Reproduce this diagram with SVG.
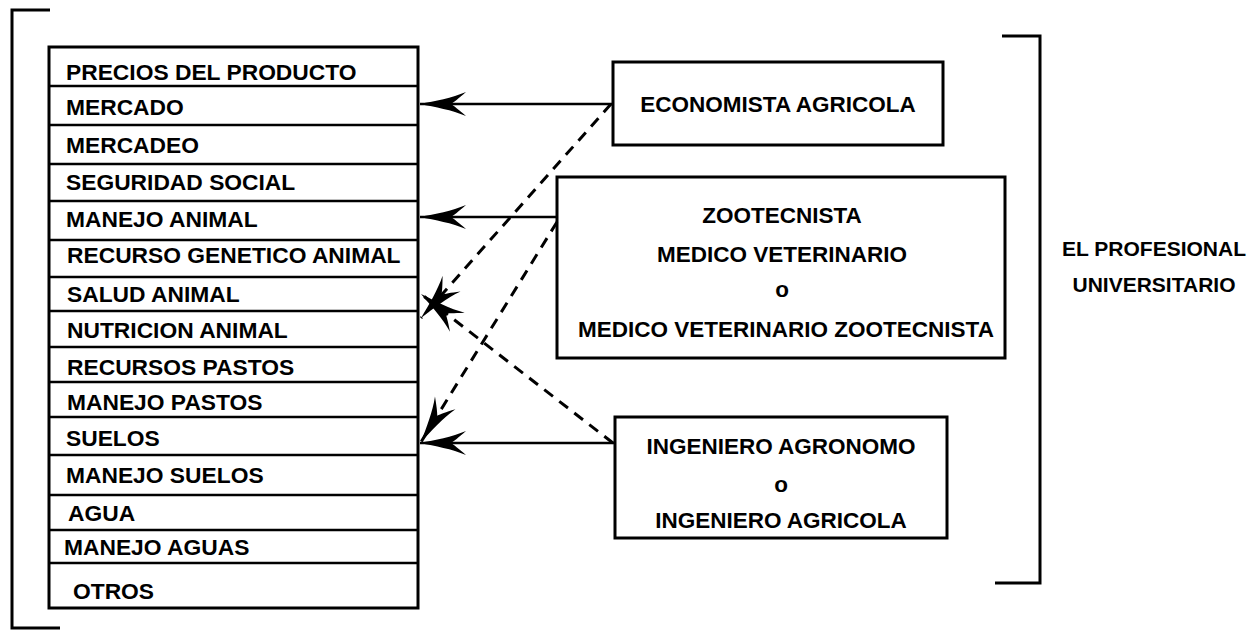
<svg xmlns="http://www.w3.org/2000/svg" width="1250" height="638" viewBox="0 0 1250 638">
<style>
text{font-family:"Liberation Sans",Arial,sans-serif;font-weight:bold;fill:#000}
.lt{font-size:22.8px}
.bt{font-size:22.5px;text-anchor:middle}
.box{fill:#fff;stroke:#000;stroke-width:3}
.div{stroke:#000;stroke-width:2.5}
.br{fill:none;stroke:#000;stroke-width:3}
.sol{fill:none;stroke:#000;stroke-width:2.5;marker-end:url(#ah)}
.dsh{fill:none;stroke:#000;stroke-width:3;stroke-dasharray:11 8;marker-end:url(#ah)}
</style>
<defs>
<marker id="ah" markerUnits="userSpaceOnUse" orient="auto" viewBox="-50 -15 52 30" markerWidth="52" markerHeight="30" refX="0" refY="0">
<path d="M0,0 C-15,-3 -32,-6 -46,-12 C-38,-5 -34,-2 -31,0 C-34,2 -38,5 -46,12 C-32,6 -15,3 0,0 Z" fill="#000"/>
</marker>
</defs>
<rect width="1250" height="638" fill="#fff"/>
<g id="left-bracket">
<path class="br" d="M50,10 H12 V628 H60"/>
</g>
<g id="right-bracket">
<path class="br" d="M1002,36 H1040 V583 H995"/>
</g>
<g id="list">
<rect class="box" x="49" y="47" width="369" height="561"/>
<line class="div" x1="49" y1="86" x2="418" y2="86"/>
<line class="div" x1="49" y1="125" x2="418" y2="125"/>
<line class="div" x1="49" y1="164" x2="418" y2="164"/>
<line class="div" x1="49" y1="201" x2="418" y2="201"/>
<line class="div" x1="49" y1="240" x2="418" y2="240"/>
<line class="div" x1="49" y1="277" x2="418" y2="277"/>
<line class="div" x1="49" y1="311" x2="418" y2="311"/>
<line class="div" x1="49" y1="347" x2="418" y2="347"/>
<line class="div" x1="49" y1="382" x2="418" y2="382"/>
<line class="div" x1="49" y1="417" x2="418" y2="417"/>
<line class="div" x1="49" y1="455" x2="418" y2="455"/>
<line class="div" x1="49" y1="495" x2="418" y2="495"/>
<line class="div" x1="49" y1="530" x2="418" y2="530"/>
<line class="div" x1="49" y1="563" x2="418" y2="563"/>
<text class="lt" x="66" y="80">PRECIOS DEL PRODUCTO</text>
<text class="lt" x="66" y="115">MERCADO</text>
<text class="lt" x="66" y="153">MERCADEO</text>
<text class="lt" x="66" y="190">SEGURIDAD SOCIAL</text>
<text class="lt" x="66" y="227">MANEJO ANIMAL</text>
<text class="lt" x="67" y="263">RECURSO GENETICO ANIMAL</text>
<text class="lt" x="67" y="302">SALUD ANIMAL</text>
<text class="lt" x="67" y="338">NUTRICION ANIMAL</text>
<text class="lt" x="67" y="375">RECURSOS PASTOS</text>
<text class="lt" x="67" y="410">MANEJO PASTOS</text>
<text class="lt" x="66" y="446">SUELOS</text>
<text class="lt" x="66" y="483">MANEJO SUELOS</text>
<text class="lt" x="68" y="521">AGUA</text>
<text class="lt" x="64" y="555">MANEJO AGUAS</text>
<text class="lt" x="73" y="599">OTROS</text>
</g>
<g id="economista">
<rect class="box" x="613" y="62" width="330" height="83"/>
<text class="bt" x="778" y="112">ECONOMISTA AGRICOLA</text>
</g>
<g id="zootecnista">
<rect class="box" x="557" y="177" width="448" height="181"/>
<text class="bt" x="782" y="223">ZOOTECNISTA</text>
<text class="bt" x="782" y="262">MEDICO VETERINARIO</text>
<text class="bt" x="782" y="297">o</text>
<text class="bt" x="786" y="337">MEDICO VETERINARIO ZOOTECNISTA</text>
</g>
<g id="ingeniero">
<rect class="box" x="615" y="417" width="332" height="121"/>
<text class="bt" x="781" y="454">INGENIERO AGRONOMO</text>
<text class="bt" x="781" y="492">o</text>
<text class="bt" x="781" y="528">INGENIERO AGRICOLA</text>
</g>
<g id="label">
<text x="1154" y="256" font-size="21" text-anchor="middle">EL PROFESIONAL</text>
<text x="1154" y="292" font-size="21" text-anchor="middle">UNIVERSITARIO</text>
</g>
<g id="connectors">
<path class="sol" d="M613,104 H420"/>
<path class="sol" d="M557,217 H420"/>
<path class="sol" d="M615,443 H420"/>
<path class="dsh" d="M611,104 L421,318"/>
<path class="dsh" d="M557,222 L421,442"/>
<path class="dsh" d="M613,443 L421,294"/>
</g>
</svg>
